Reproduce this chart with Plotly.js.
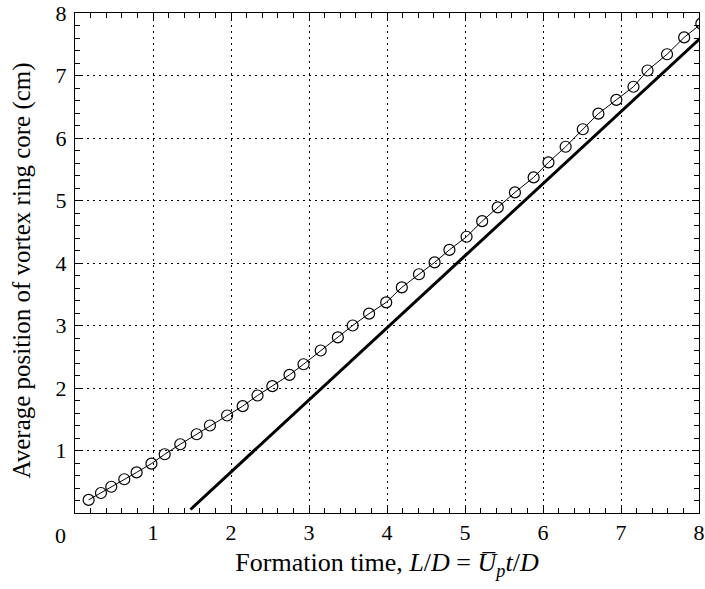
<!DOCTYPE html>
<html>
<head>
<meta charset="utf-8">
<script src="https://cdn.plot.ly/plotly-3.0.1.min.js"></script>
<style>html,body{margin:0;padding:0;background:#fff}#chart{width:705px;height:589px}</style>
</head>
<body>
<div id="chart"></div>
<script>
// Measured vortex ring core position (circles)
const formationTime = [0.175, 0.333, 0.465, 0.632, 0.79, 0.98, 1.15, 1.35, 1.56, 1.73, 1.95, 2.15, 2.34, 2.53,
  2.75, 2.93, 3.15, 3.37, 3.56, 3.77, 3.99, 4.19, 4.41, 4.61, 4.80, 5.02, 5.22, 5.42, 5.64, 5.88,
  6.07, 6.29, 6.51, 6.71, 6.94, 7.16, 7.34, 7.59, 7.81, 8.03];
const corePosition = [0.21, 0.32, 0.42, 0.54, 0.65, 0.79, 0.94, 1.10, 1.26, 1.40, 1.56, 1.71, 1.88, 2.03,
  2.21, 2.38, 2.60, 2.81, 3.00, 3.19, 3.37, 3.61, 3.82, 4.01, 4.21, 4.42, 4.67, 4.89, 5.13, 5.37,
  5.61, 5.86, 6.14, 6.39, 6.61, 6.82, 7.08, 7.34, 7.61, 7.83];
// Straight reference line (thick)
const lineX = [1.48, 8.03];
const lineY = [0.056, 7.61];
const tickVals = [1, 2, 3, 4, 5, 6, 7, 8];
const tickText = ['1', '2', '3', '4', '5', '6', '7', '8'];
const xTitle = 'Formation time, <i>L</i>/<i>D</i> = <i>U\u0305</i><sub><i>p</i></sub><i>t</i>/<i>D</i>';
const yTitle = 'Average position of vortex ring core (cm)';

const font = '"Liberation Serif", "Times New Roman", serif';

const traces = [
  {x: formationTime, y: corePosition, type: 'scatter', mode: 'lines+markers',
   line: {color: 'black', width: 1},
   marker: {symbol: 'circle-open', size: 11, color: 'black', line: {width: 1.2, color: 'black'}},
   showlegend: false},
  {x: lineX, y: lineY, type: 'scatter', mode: 'lines',
   line: {color: 'black', width: 3}, showlegend: false}
];

const axisCommon = {
  range: [0, 8], showline: true, linecolor: 'black', linewidth: 1, mirror: 'allticks',
  ticks: 'inside', ticklen: 7, tickwidth: 1, tickcolor: 'black',
  tickvals: tickVals, ticktext: tickText,
  showgrid: true, gridcolor: 'black', gridwidth: 1, griddash: '2px,4px',
  zeroline: false,
  tickfont: {family: font, size: 22, color: 'black'},
  minor: {dtick: 0.2, ticks: 'inside', ticklen: 5, tickwidth: 1, tickcolor: 'black', showgrid: false}
};

const layout = {
  width: 705, height: 589,
  margin: {l: 75, r: 6, t: 13, b: 76},
  paper_bgcolor: 'white', plot_bgcolor: 'white',
  font: {family: font, color: 'black'},
  xaxis: Object.assign({}, axisCommon, {
    ticklabelstandoff: 0,
    title: {text: xTitle, font: {family: font, size: 26, color: 'black'}, standoff: 8}
  }),
  yaxis: Object.assign({}, axisCommon, {
    ticklabelstandoff: 3
  }),
  annotations: [
    {text: '0', xref: 'paper', yref: 'paper', x: -0.024, y: -0.044, xanchor: 'center', yanchor: 'middle',
     showarrow: false, font: {family: font, size: 22, color: 'black'}},
    {text: yTitle, xref: 'paper', yref: 'paper', x: -0.085, y: 0.485, xanchor: 'center', yanchor: 'middle',
     textangle: -90, showarrow: false, font: {family: font, size: 25, color: 'black'}}
  ]
};

Plotly.newPlot('chart', traces, layout, {displayModeBar: false, staticPlot: true});
</script>
</body>
</html>
